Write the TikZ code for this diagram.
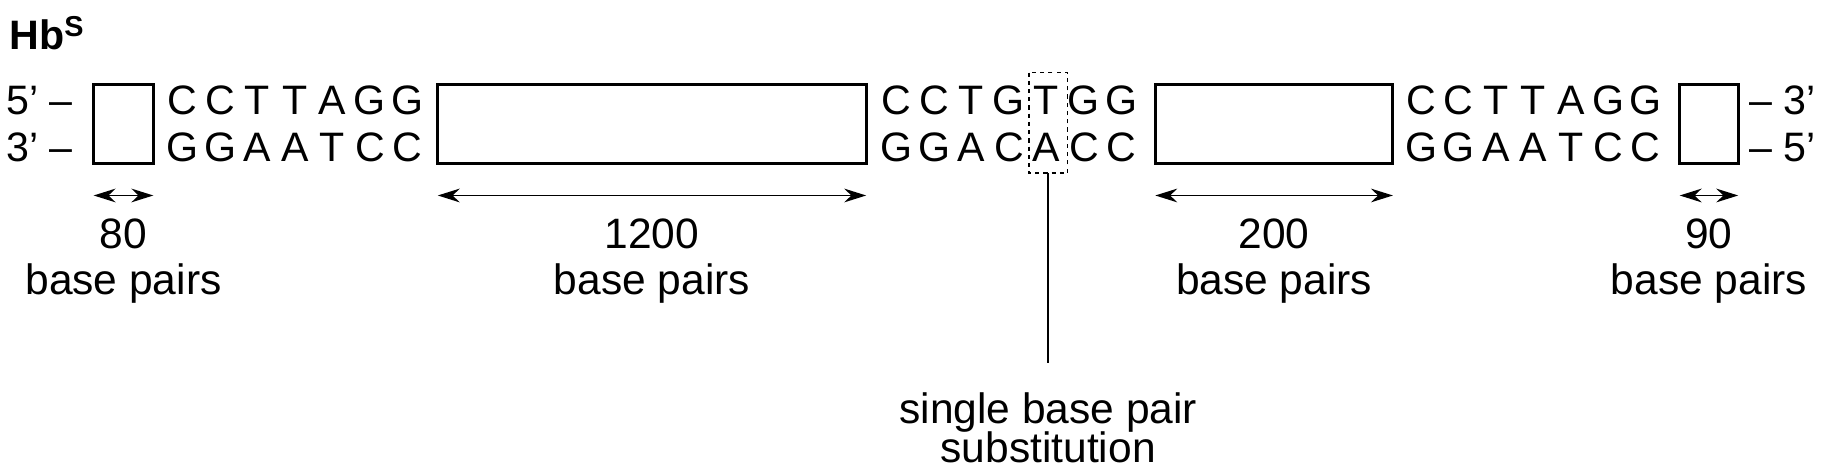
\documentclass[tikz,border=0pt]{standalone}
\usepackage{fontspec}
\setmainfont{Liberation Sans}
\usetikzlibrary{arrows.meta}

\tikzset{
	base/.style={font=\fontsize{30}{34}\selectfont, inner sep=0pt},
	label/.style={font=\fontsize{31}{36}\selectfont, inner sep=0pt, anchor=base},
	gene/.style={draw, line width=2.2pt},
	span/.style={<->, >={Stealth[length=16pt,width=10pt]}, line width=1.3pt},
}

\begin{document}
\begin{tikzpicture}[x=0.03cm, y=-0.03cm]
	\useasboundingbox (0,0) rectangle (1560,406);
	\node[base, anchor=base west, font=\fontsize{30}{34}\selectfont\bfseries] (hb) at (8,42) {Hb\textsuperscript{S}};
	% strand ends
	\node[base, anchor=base west] (p5) at (5,98) {5’ –};
	\node[base, anchor=base west] (p3) at (5,138) {3’ –};
	\node[base, anchor=base west] (q3) at (1494,98) {– 3’};
	\node[base, anchor=base west] (q5) at (1494,138) {– 5’};
	% boxes
	\draw[gene] (80,72) rectangle (131,140);
	\draw[gene] (374,72) rectangle (740,140);
	\draw[gene] (987,72) rectangle (1190,140);
	\draw[gene] (1435,72) rectangle (1485,140);
	% sequences
	\foreach \x/\t [count=\i] in {C/G,C/G,T/A,T/A,A/T,G/C,G/C}
	{
		\node[base, anchor=base] (l\i) at (156+32*\i-32,98) {\x};
		\node[base, anchor=base] at (156+32*\i-32,138) {\t};
		\node[base, anchor=base] (r\i) at (1214+32*\i-32,98) {\x};
		\node[base, anchor=base] at (1214+32*\i-32,138) {\t};
	}
	\foreach \x/\t [count=\i] in {C/G,C/G,T/A,G/C,T/A,G/C,G/C}
	{
		\node[base, anchor=base] (m\i) at (766+32*\i-32,98) {\x};
		\node[base, anchor=base] at (766+32*\i-32,138) {\t};
	}
	\draw[dashed, line width=1.2pt] (879,62) rectangle (912,148);
	\coordinate (sub) at (895.5,148);
	\coordinate (subend) at (895.5,310);
	\draw[line width=1.2pt] (sub) -- (subend);
	\node[label] (st1) at (895.5,362) {single base pair};
	\node[label] (st2) at (895.5,395) {substitution};
	% lengths
	\foreach \a/\b/\n in {80/131/80, 374/740/1200, 987/1190/200, 1435/1485/90}
	{
		\draw[span] (\a,167) -- (\b,167);
		\node[label] at ({(\a+\b)/2},212) {\n};
		\node[label] at ({(\a+\b)/2},252) {base pairs};
	}
\end{tikzpicture}
\end{document}
